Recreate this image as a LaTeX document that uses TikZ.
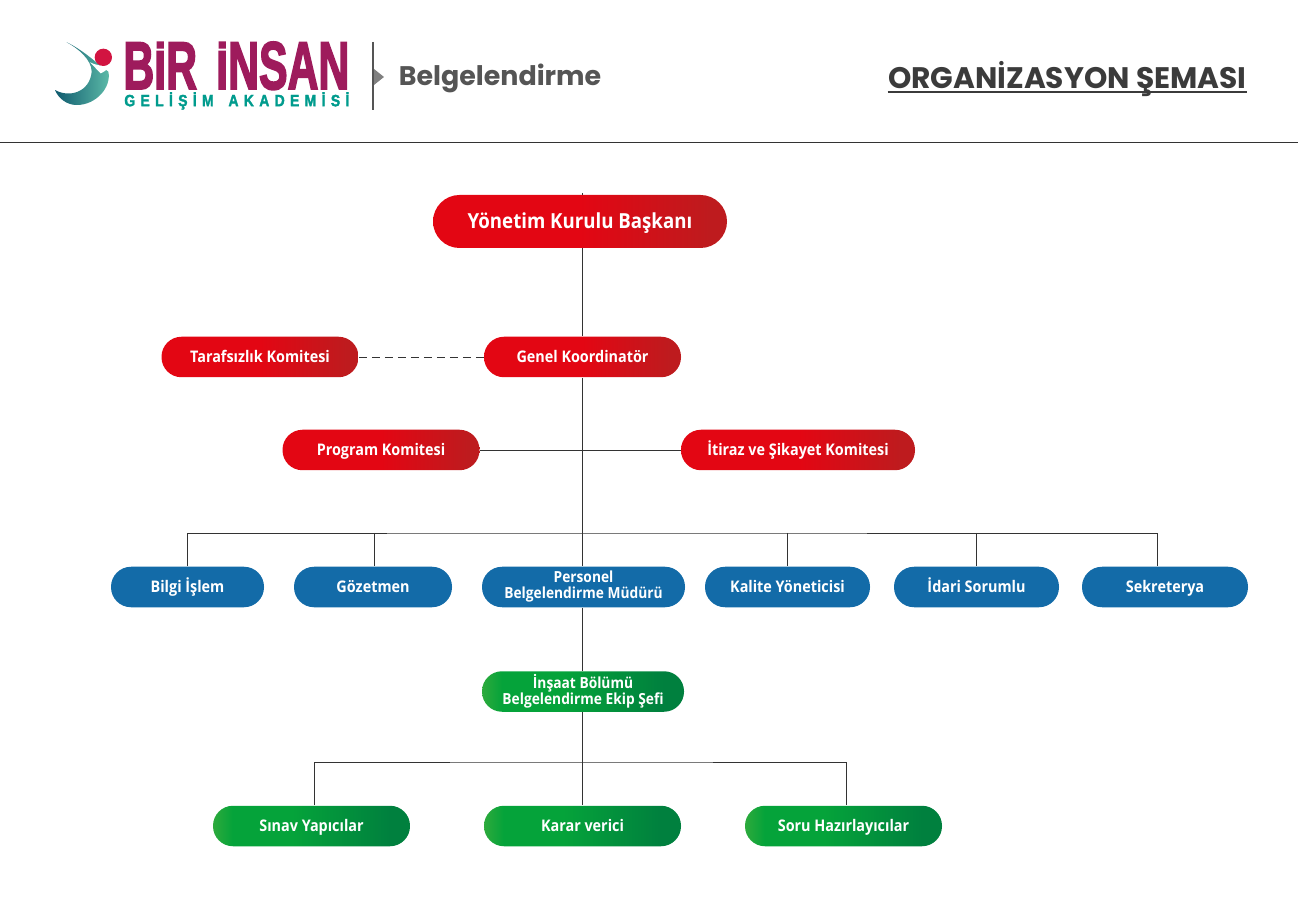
\documentclass[tikz,border=0pt]{standalone}
\usepackage{fontspec}
\usepackage{graphicx}
\setmainfont{Open Sans}
\newfontfamily\boxfont[FakeStretch=0.9]{Open Sans}
\newfontfamily\headfont{Poppins}
\newfontfamily\logofont[FakeBold=3]{Liberation Sans}
\newfontfamily\subfont[LetterSpace=38,FakeBold=2]{Liberation Sans}
\usetikzlibrary{arrows.meta,calc,positioning}
\definecolor{boardred}{RGB}{227,6,19}
\definecolor{boarddark}{RGB}{190,27,30}
\definecolor{staffblue}{RGB}{19,107,168}
\definecolor{teamgreen}{RGB}{5,163,58}
\definecolor{teamdark}{RGB}{0,128,62}
\definecolor{teamlight}{RGB}{45,170,60}
\definecolor{linegray}{RGB}{51,51,51}
\definecolor{headgray}{RGB}{85,85,85}
\definecolor{titlegray}{RGB}{59,59,59}
\definecolor{logoplum}{RGB}{158,27,92}
\definecolor{logoteal}{RGB}{0,155,141}
\definecolor{logodeep}{RGB}{15,90,110}
\definecolor{logomint}{RGB}{95,190,170}
\definecolor{logocrim}{RGB}{210,20,65}
\pgfdeclarehorizontalshading{redshade}{100bp}{color(0bp)=(boardred); color(50bp)=(boardred); color(72bp)=(boarddark); color(100bp)=(boarddark)}
\pgfdeclarehorizontalshading{greenshade}{100bp}{color(0bp)=(teamlight); color(25bp)=(teamlight); color(30bp)=(teamgreen); color(45bp)=(teamgreen); color(70bp)=(teamdark); color(100bp)=(teamdark)}
\tikzset{
 orgbox/.style={rounded corners=.4cm,minimum height=.81cm,inner sep=0pt,text=white,
  align=center,text height=.25cm,text depth=.02cm,font=\boxfont\bfseries\fontsize{9.1}{9.2}\selectfont},
 twoline/.style={text height=,text depth=,font=\boxfont\bfseries\fontsize{8.7}{9.1}\selectfont},
 redbox/.style={orgbox,shade,shading=redshade},
 bluebox/.style={orgbox,fill=staffblue},
 greenbox/.style={orgbox,shade,shading=greenshade},
 orgline/.style={linegray,line width=.5pt},
}
\begin{document}
\begin{tikzpicture}[>=Stealth,line cap=butt]
 \useasboundingbox (0,0) rectangle (25.96,17.98);
 % header
 \draw[orgline] (0,15.13)--(25.96,15.13);
 \begin{scope}[shift={(0.8,17.48)},x=.00667cm,y=-.00667cm]
  \shade[left color=logodeep,right color=logomint]
   (80,52) .. controls (130,75) and (170,115) .. (205,140)
   .. controls (215,185) and (170,240) .. (110,240)
   .. controls (80,240) and (55,220) .. (45,195)
   .. controls (90,220) and (150,200) .. (155,140)
   .. controls (155,105) and (115,70) .. (80,52);
  \fill[white] (150,112) .. controls (165,120) and (190,125) .. (212,122)
   .. controls (200,135) and (190,142) .. (182,145) -- cycle;
  \fill[logocrim] (190,97) circle (26);
 \end{scope}
 \node[anchor=south west,inner sep=0pt,text=logoplum] (logoname) at (2.46,16.18)
  {\resizebox{4.52cm}{.94cm}{\logofont\bfseries B\scalebox{1}[.81]{İ}R\kern.45em\scalebox{1}[.81]{İ}NSAN}};
 \node[anchor=south west,inner sep=0pt,text=logoteal] (logosub) at (2.48,15.78)
  {\resizebox{4.5cm}{.28cm}{\subfont\bfseries GELİŞİM\kern.4em{} AKADEMİSİ}};
 \draw[headgray,line width=.9pt] (7.46,17.14)--(7.46,15.78);
 \fill[gray] (7.48,16.6)--(7.68,16.44)--(7.48,16.28)--cycle;
 \node[anchor=west,inner sep=0pt,text=headgray,font=\headfont\bfseries\fontsize{15.3}{15}\selectfont] (field) at (7.97,16.41) {Belgelendirme};
 \node[anchor=east,inner sep=0pt,text=titlegray,font=\headfont\bfseries\fontsize{16.9}{17}\selectfont] (pagetitle) at (24.94,16.39) {ORGANİZASYON ŞEMASI};
 \draw[titlegray,line width=.8pt] (pagetitle.west |- 0,16.14)--(pagetitle.east |- 0,16.14);
 % boxes
 \node[redbox,minimum width=5.88cm,minimum height=1.06cm,rounded corners=.53cm,
  text height=.32cm,text depth=.02cm,font=\boxfont\bfseries\fontsize{11.8}{12}\selectfont] (chair) at (11.6,13.55) {Yönetim Kurulu Başkanı};
 \node[redbox,minimum width=3.94cm] (coord) at (11.65,10.84) {Genel Koordinatör};
 \node[redbox,minimum width=3.94cm] (impart) at (5.2,10.84) {Tarafsızlık Komitesi};
 \node[redbox,minimum width=3.94cm] (program) at (7.62,8.98) {Program Komitesi};
 \node[redbox,minimum width=4.68cm] (appeal) at (15.96,8.98) {İtiraz ve Şikayet Komitesi};
 \node[bluebox,minimum width=3.06cm] (it) at (3.75,6.24) {Bilgi İşlem};
 \node[bluebox,minimum width=3.16cm] (watch) at (7.46,6.24) {Gözetmen};
 \node[bluebox,twoline,minimum width=4.06cm] (staff) at (11.67,6.24) {Personel\\Belgelendirme Müdürü};
 \node[bluebox,minimum width=3.3cm] (quality) at (15.75,6.24) {Kalite Yöneticisi};
 \node[bluebox,minimum width=3.3cm] (admin) at (19.53,6.24) {İdari Sorumlu};
 \node[bluebox,minimum width=3.32cm] (secret) at (23.3,6.24) {Sekreterya};
 \node[greenbox,twoline,minimum width=4.04cm] (build) at (11.66,4.15) {İnşaat Bölümü\\Belgelendirme Ekip Şefi};
 \node[greenbox,minimum width=3.94cm] (exam) at (6.23,1.46) {Sınav Yapıcılar};
 \node[greenbox,minimum width=3.94cm] (decide) at (11.65,1.46) {Karar verici};
 \node[greenbox,minimum width=3.94cm] (ask) at (16.87,1.46) {Soru Hazırlayıcılar};
 % lines
 \coordinate (stub) at (11.65,14.12);
 \coordinate (busone) at (11.65,7.32);
 \coordinate (bustwo) at (11.65,2.74);
 \draw[orgline] (stub)--(coord.north |- chair.north);
 \draw[orgline] (coord.north |- chair.south)--(coord.north);
 \draw[orgline,dash pattern=on 4.5pt off 2.9pt] (impart)--(coord);
 \draw[orgline] (coord.south)--(coord.south |- staff.north);
 \draw[orgline] (program)--(appeal);
 \draw[orgline] (staff.south -| coord.south)--(coord.south |- build.north);
 \draw[orgline] (build.south -| coord.south)--(decide.north -| coord.south);
 \draw[orgline] (it.north) |- (busone) -| (secret.north -| 23.15,0);
 \draw[orgline] (busone -| 7.49,0)--(watch.north -| 7.49,0);
 \draw[orgline] (busone -| quality.north)--(quality.north);
 \draw[orgline] (busone -| admin.north)--(admin.north);
 \draw[orgline] (exam.north -| 6.29,0) |- (bustwo) -| (ask.north -| 16.93,0);
\end{tikzpicture}
\end{document}
